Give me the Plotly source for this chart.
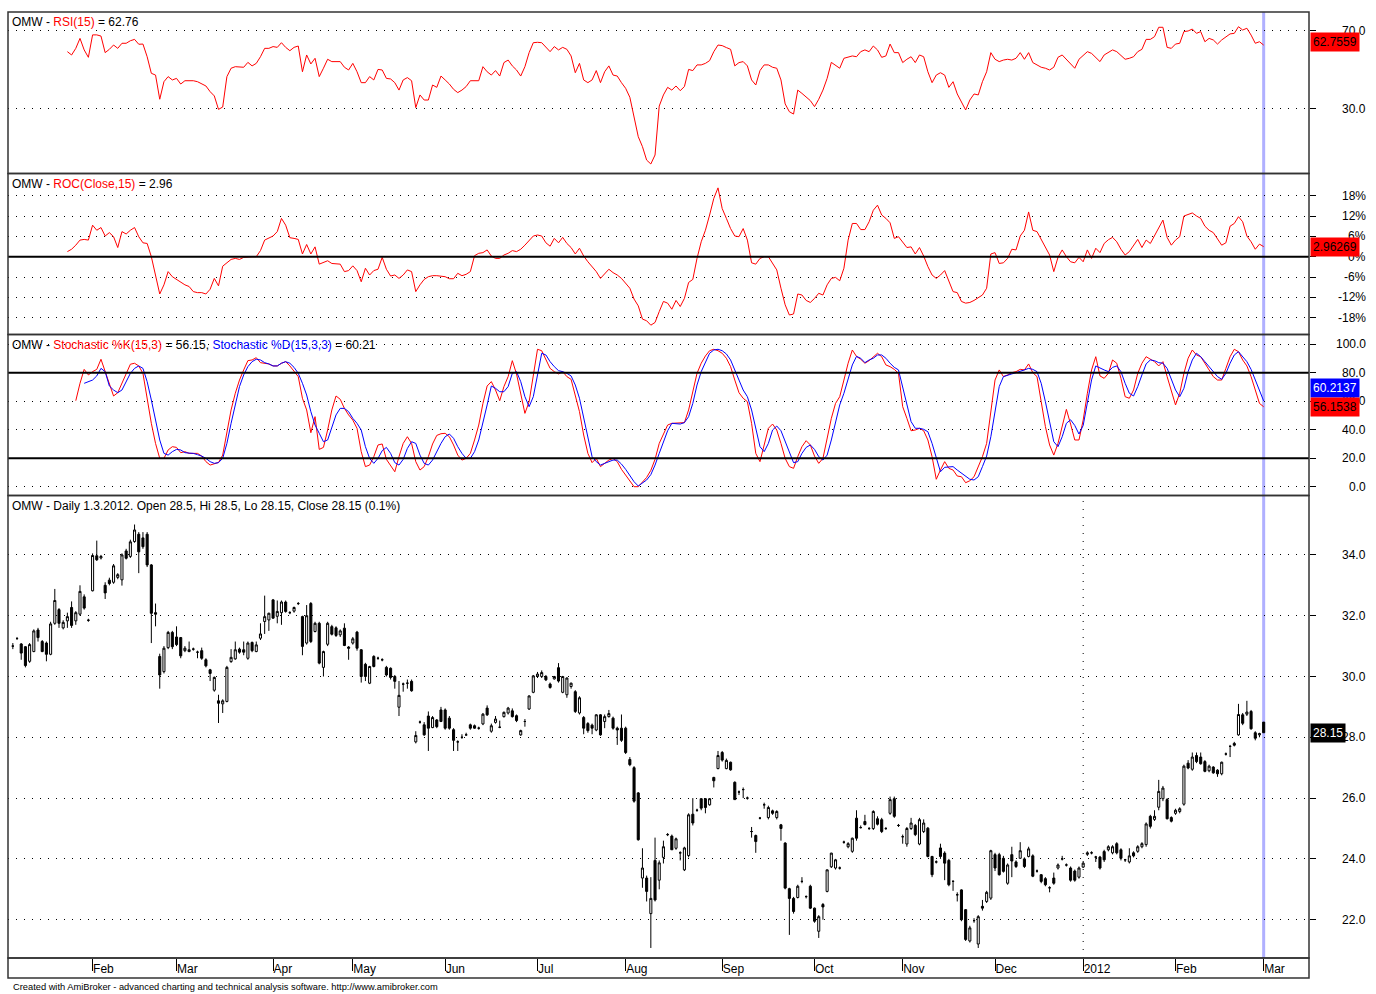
import pandas as pd
import plotly.graph_objects as go

# ---------------- dates (trading days, Vienna) ----------------
holidays = ["2011-04-22", "2011-04-25", "2011-12-26"]
all_days = pd.bdate_range("2011-01-05", "2012-03-01")
dates = all_days[~all_days.isin(pd.to_datetime(holidays))]
bar_idx = list(range(len(dates)))

month_labels = ["Feb", "Mar", "Apr", "May", "Jun", "Jul", "Aug", "Sep", "Oct",
                "Nov", "Dec", "2012", "Feb", "Mar"]
month_starts = [i for i in range(1, len(dates)) if dates[i].month != dates[i - 1].month]

# ---------------- price data (OMW daily) ----------------
opens = [
    31.0, 31.25, 31.07, 30.98, 30.5, 30.82, 31.53, 31.15, 31.1, 30.73,
    31.75, 32.2, 31.6, 31.83, 32.27, 31.83, 32.05, 32.62, 31.85, 32.82,
    33.97, 33.9, 33.0, 33.17, 33.1, 33.26, 33.18, 34.13, 33.95, 34.44,
    34.68, 34.56, 34.68, 33.67, 32.1, 30.66, 30.16, 30.95, 31.45, 31.3,
    31.28, 30.85, 30.82, 30.9, 30.8, 30.85, 30.55, 30.22, 29.55, 29.2,
    29.1, 29.18, 30.49, 30.58, 30.9, 30.88, 30.6, 31.12, 30.82, 31.26,
    31.81, 31.86, 32.52, 31.98, 32.1, 32.45, 32.1, 32.15, 32.4, 31.97,
    31.1, 32.4, 31.48, 31.75, 30.3, 31.06, 31.64, 31.6, 31.37, 31.59,
    30.97, 31.1, 31.46, 30.88, 30.4, 29.78, 30.66, 30.6, 30.55, 30.3,
    30.27, 30.0, 28.99, 29.75, 29.78, 29.84, 27.85, 28.5, 28.41, 28.7,
    28.32, 28.57, 28.9, 28.9, 28.63, 28.25, 27.85, 28.0, 28.08, 28.41,
    28.38, 28.3, 28.44, 28.96, 28.2, 28.49, 28.33, 28.68, 28.8, 28.87,
    28.71, 28.08, 28.52, 28.93, 29.48, 30.0, 30.0, 30.0, 29.75, 29.92,
    30.29, 29.48, 29.4, 29.67, 29.5, 28.8, 28.65, 28.45, 28.4, 28.24,
    28.74, 28.52, 28.68, 28.63, 28.3, 28.3, 28.3, 27.27, 27.0, 26.17,
    23.37, 23.37, 22.2, 23.95, 23.3, 24.05, 24.8, 24.75, 24.35, 24.2,
    23.64, 24.11, 25.47, 25.6, 25.98, 25.98, 25.78, 26.68, 26.97, 27.5,
    26.97, 27.18, 26.52, 26.2, 26.28, 26.0, 24.9, 24.77, 25.34, 25.78,
    25.36, 25.58, 25.36, 25.12, 24.52, 23.02, 22.7, 22.73, 23.26, 22.76,
    23.1, 22.38, 21.62, 22.5, 22.93, 23.74, 23.7, 23.7, 24.55, 24.4,
    24.25, 25.34, 25.03, 25.23, 25.0, 25.0, 25.32, 25.29, 25.0, 25.5,
    25.98, 25.1, 24.73, 24.49, 25.0, 25.1, 24.49, 24.9, 25.01, 24.08,
    23.9, 24.36, 24.19, 23.95, 23.26, 22.82, 22.98, 22.33, 21.3, 21.97,
    21.2, 22.44, 22.6, 22.71, 24.14, 24.14, 24.02, 23.2, 24.14, 23.9,
    24.02, 24.0, 24.08, 24.1, 23.6, 23.48, 23.35, 23.05, 23.37, 23.7,
    24.0, 23.8, 23.7, 23.6, 23.4, 23.73, 24.15, 24.2, 24.06, 24.06,
    24.24, 24.3, 24.2, 24.5, 24.3, 23.97, 23.9, 24.2, 24.25, 24.4,
    24.47, 25.4, 25.3, 25.7, 25.98, 25.95, 25.36, 25.5, 25.56, 25.8,
    27.15, 26.95, 27.4, 27.35, 27.2, 26.9, 27.02, 26.92, 26.8, 27.45,
    27.7, 27.8, 28.08, 28.74, 28.76, 28.85, 28.15, 28.08, 28.5,
]
highs = [
    31.1, 31.3, 31.1, 31.0, 31.1, 31.55, 31.6, 31.2, 31.15, 31.8,
    32.88, 32.25, 31.85, 32.1, 32.47, 32.15, 33.0, 32.7, 31.9, 34.05,
    34.47, 34.0, 33.1, 33.25, 33.7, 33.4, 34.05, 34.2, 34.5, 35.0,
    34.75, 34.75, 34.75, 33.7, 32.4, 30.75, 31.0, 31.5, 31.5, 31.65,
    31.3, 31.0, 31.15, 30.95, 30.85, 30.95, 30.6, 30.25, 30.0, 29.4,
    29.25, 30.35, 30.9, 31.15, 30.95, 31.15, 31.15, 31.15, 31.15, 31.75,
    32.66, 32.1, 32.55, 32.5, 32.5, 32.5, 32.15, 32.3, 32.45, 32.0,
    32.35, 32.45, 31.8, 31.8, 30.85, 31.8, 31.7, 31.65, 31.55, 31.75,
    31.0, 31.3, 31.5, 30.9, 30.45, 30.35, 30.7, 30.65, 30.6, 30.35,
    30.3, 30.05, 29.85, 29.8, 29.9, 29.9, 28.2, 28.55, 28.5, 28.85,
    28.7, 28.6, 29.0, 28.95, 28.7, 28.3, 27.9, 28.1, 28.15, 28.45,
    28.42, 28.35, 28.8, 29.05, 28.45, 28.7, 28.55, 28.85, 29.0, 28.95,
    28.75, 28.25, 28.6, 29.38, 30.05, 30.15, 30.2, 30.05, 29.8, 30.02,
    30.44, 30.02, 29.97, 29.8, 29.55, 29.35, 28.7, 28.5, 28.45, 28.76,
    28.76, 28.75, 28.9, 28.68, 28.35, 28.75, 28.35, 27.35, 27.05, 26.2,
    24.35, 23.45, 23.4, 24.7, 23.95, 24.6, 24.85, 24.8, 24.7, 24.25,
    24.4, 25.5, 26.0, 25.65, 26.0, 26.0, 26.0, 26.7, 27.55, 27.55,
    27.3, 27.2, 26.55, 26.25, 26.35, 26.05, 25.05, 24.8, 25.38, 25.85,
    25.75, 25.62, 25.6, 25.15, 24.55, 23.05, 22.75, 23.15, 23.4, 22.8,
    23.15, 22.4, 22.15, 22.55, 23.65, 24.2, 24.0, 23.75, 24.6, 24.55,
    24.7, 25.6, 25.1, 25.45, 25.05, 25.6, 25.4, 25.35, 25.05, 26.05,
    26.05, 25.15, 24.8, 25.05, 25.35, 25.15, 25.35, 25.3, 25.05, 24.1,
    23.95, 24.5, 24.25, 24.0, 23.3, 22.9, 23.0, 22.35, 21.8, 22.05,
    22.15, 22.65, 22.95, 24.3, 24.2, 24.2, 24.1, 23.85, 24.4, 23.95,
    24.55, 24.05, 24.4, 24.15, 23.65, 23.5, 23.4, 23.1, 23.55, 23.85,
    24.1, 23.85, 23.75, 23.65, 23.75, 23.9, 24.25, 24.25, 24.1, 24.1,
    24.3, 24.45, 24.45, 24.55, 24.35, 24.0, 24.35, 24.25, 24.45, 24.55,
    25.2, 25.45, 25.6, 26.6, 26.4, 26.0, 25.4, 25.65, 25.7, 27.1,
    27.25, 27.5, 27.5, 27.5, 27.25, 27.1, 27.05, 26.95, 27.2, 27.5,
    27.75, 27.85, 29.1, 28.8, 29.2, 28.9, 28.2, 28.15, 28.5,
]
lows = [
    30.9, 31.2, 30.55, 30.3, 30.45, 30.8, 31.15, 30.8, 30.5, 30.7,
    31.7, 31.6, 31.55, 31.6, 31.6, 31.7, 32.0, 32.2, 31.8, 32.8,
    33.8, 33.85, 32.55, 33.0, 33.05, 33.2, 32.99, 33.85, 33.9, 34.4,
    33.4, 34.2, 33.6, 31.1, 31.65, 29.6, 30.1, 30.9, 30.9, 31.0,
    30.6, 30.8, 30.8, 30.85, 30.6, 30.55, 30.3, 29.85, 29.5, 28.47,
    28.8, 29.15, 30.45, 30.55, 30.75, 30.7, 30.55, 30.8, 30.8, 31.2,
    31.4, 31.5, 31.9, 31.75, 31.7, 32.1, 32.05, 32.1, 32.35, 30.7,
    31.05, 31.1, 31.45, 30.4, 30.0, 31.0, 31.35, 31.3, 31.3, 31.0,
    30.55, 31.05, 30.85, 29.8, 29.85, 29.75, 30.3, 30.55, 30.5, 30.0,
    29.9, 29.6, 28.7, 29.5, 29.6, 29.5, 27.8, 28.45, 28.05, 27.55,
    28.3, 28.3, 28.5, 28.25, 28.25, 27.55, 27.55, 27.95, 28.05, 28.25,
    28.28, 28.25, 28.4, 28.7, 28.15, 28.45, 28.3, 28.65, 28.75, 28.65,
    28.5, 28.05, 28.35, 28.9, 29.45, 29.95, 29.95, 29.85, 29.6, 29.9,
    29.8, 29.45, 29.3, 29.6, 28.8, 28.75, 28.1, 28.15, 28.1, 28.2,
    28.05, 28.3, 28.65, 28.25, 27.75, 27.85, 27.45, 27.05, 25.85, 24.6,
    23.05, 22.6, 21.07, 22.6, 23.0, 23.85, 24.75, 24.3, 24.3, 23.95,
    23.6, 24.05, 25.1, 25.55, 25.6, 25.5, 25.75, 26.35, 26.95, 27.2,
    26.95, 26.9, 25.95, 26.1, 26.0, 25.95, 24.7, 24.2, 25.3, 25.65,
    25.3, 25.45, 25.3, 24.6, 23.0, 21.5, 22.2, 22.7, 23.2, 22.7,
    22.35, 21.9, 21.4, 22.0, 22.9, 23.7, 23.65, 23.65, 24.5, 24.35,
    24.2, 24.6, 25.0, 25.1, 24.95, 24.95, 25.1, 24.85, 24.95, 25.45,
    25.35, 25.05, 24.5, 24.4, 24.95, 24.75, 24.45, 24.85, 24.05, 23.4,
    23.85, 24.0, 23.3, 23.1, 22.95, 22.6, 21.95, 21.3, 21.25, 21.9,
    21.07, 22.3, 22.55, 22.65, 23.6, 23.45, 23.55, 23.15, 23.4, 23.7,
    24.0, 23.7, 24.05, 23.4, 23.55, 23.2, 23.1, 22.9, 23.15, 23.65,
    23.95, 23.75, 23.25, 23.25, 23.35, 23.7, 24.1, 24.15, 23.9, 23.65,
    23.9, 24.25, 24.15, 24.15, 23.95, 23.9, 23.85, 24.05, 24.2, 24.35,
    24.4, 25.0, 25.25, 25.6, 25.9, 25.3, 25.2, 25.45, 25.5, 25.75,
    26.95, 26.9, 27.15, 27.1, 26.85, 26.85, 26.8, 26.7, 26.75, 27.4,
    27.35, 27.7, 28.05, 28.4, 28.7, 28.25, 27.9, 28.0, 28.15,
]
closes = [
    31.0, 31.25, 30.77, 30.36, 31.05, 31.5, 31.28, 30.82, 30.73, 31.73,
    32.5, 31.75, 31.78, 31.97, 31.68, 32.1, 32.8, 32.25, 31.85, 33.98,
    33.84, 33.95, 32.75, 33.06, 33.64, 33.35, 34.0, 33.89, 34.43, 34.82,
    34.1, 34.27, 33.67, 32.08, 32.05, 30.05, 30.93, 31.45, 30.98, 31.05,
    30.68, 30.93, 30.88, 30.9, 30.8, 30.6, 30.35, 30.1, 29.97, 29.12,
    29.2, 30.3, 30.63, 30.88, 30.8, 30.8, 31.1, 30.85, 31.04, 31.4,
    31.97, 32.08, 31.92, 32.14, 32.45, 32.14, 32.1, 32.27, 32.4, 30.99,
    32.0, 31.15, 31.75, 30.44, 30.82, 31.75, 31.39, 31.35, 31.5, 31.02,
    30.93, 31.24, 30.93, 30.0, 30.0, 30.33, 30.33, 30.6, 30.55, 30.05,
    29.97, 29.84, 29.38, 29.75, 29.78, 29.53, 28.06, 28.5, 28.08, 28.3,
    28.65, 28.35, 28.52, 28.3, 28.3, 27.9, 27.85, 28.0, 28.08, 28.3,
    28.3, 28.3, 28.76, 28.74, 28.38, 28.6, 28.33, 28.82, 28.96, 28.68,
    28.55, 28.22, 28.52, 29.36, 30.02, 30.08, 30.13, 29.89, 29.64, 30.0,
    29.85, 30.0, 29.95, 29.78, 28.85, 29.3, 28.3, 28.22, 28.3, 28.74,
    28.08, 28.68, 28.78, 28.3, 28.24, 27.9, 27.5, 27.1, 25.9, 24.63,
    23.7, 22.93, 22.7, 22.65, 23.87, 24.4, 24.8, 24.3, 24.66, 24.2,
    24.36, 25.45, 25.18, 25.6, 25.67, 25.69, 25.98, 26.57, 27.4, 27.25,
    27.24, 26.93, 25.95, 26.2, 26.28, 26.0, 24.9, 24.57, 25.34, 25.78,
    25.69, 25.5, 25.56, 25.0, 23.04, 22.7, 22.27, 23.1, 23.26, 22.76,
    22.38, 21.95, 22.1, 22.42, 23.64, 24.19, 23.97, 23.7, 24.55, 24.5,
    24.68, 24.68, 25.03, 25.13, 25.0, 25.56, 25.14, 24.9, 25.0, 25.95,
    25.4, 25.1, 24.73, 25.0, 25.18, 24.8, 25.29, 25.18, 24.08, 23.48,
    23.9, 24.08, 23.86, 23.15, 23.26, 22.82, 22.0, 21.35, 21.73, 21.97,
    22.1, 22.38, 22.9, 24.27, 23.7, 23.48, 23.59, 23.8, 23.93, 23.75,
    24.27, 23.75, 24.33, 23.43, 23.6, 23.26, 23.15, 23.05, 23.2, 23.8,
    24.0, 23.8, 23.3, 23.3, 23.7, 23.86, 24.2, 24.2, 24.06, 23.7,
    23.97, 24.4, 24.4, 24.2, 24.02, 23.97, 24.1, 24.1, 24.4, 24.5,
    25.15, 25.07, 25.4, 26.22, 26.33, 25.32, 25.24, 25.6, 25.65, 27.05,
    26.99, 27.35, 27.2, 27.13, 26.88, 27.05, 26.83, 26.8, 27.18, 27.45,
    27.7, 27.74, 28.75, 28.46, 28.83, 28.28, 27.97, 28.12, 28.15,
]

# ---------------- indicators ----------------
rsi_first = 13
rsi = [
    59.4, 57.7, 61.1, 66.2, 60.3, 56.5, 68.0, 68.0, 67.4, 58.9,
    60.6, 62.8, 61.1, 63.7, 63.7, 65.0, 65.7, 63.2, 63.3, 56.8,
    48.3, 47.4, 35.0, 44.0, 46.6, 44.9, 45.7, 42.8, 44.5, 44.5,
    44.5, 44.0, 43.0, 41.8, 38.9, 36.7, 29.8, 31.0, 46.6, 50.9,
    51.7, 51.5, 51.4, 53.9, 52.1, 53.4, 56.8, 61.1, 61.1, 62.0,
    61.6, 64.0, 61.6, 59.9, 61.6, 62.3, 49.1, 57.7, 53.1, 56.0,
    46.6, 50.9, 55.5, 54.3, 54.3, 54.3, 51.4, 50.0, 53.4, 49.1,
    43.5, 43.5, 46.6, 44.9, 50.3, 50.0, 45.7, 45.4, 43.5, 39.7,
    44.9, 46.1, 44.5, 30.7, 37.2, 34.6, 34.6, 42.3, 41.1, 46.9,
    44.9, 42.8, 40.1, 38.4, 39.7, 41.5, 44.5, 44.5, 44.5, 51.7,
    49.1, 47.4, 49.7, 46.9, 53.8, 55.1, 52.1, 50.0, 46.9, 51.7,
    58.9, 64.0, 64.2, 64.0, 61.6, 59.4, 62.0, 60.3, 61.6, 60.6,
    57.2, 48.6, 53.4, 44.9, 43.5, 44.9, 49.7, 43.5, 49.1, 52.1,
    47.4, 46.9, 43.5, 40.6, 36.0, 26.1, 15.8, 10.7, 3.8, 1.8,
    6.4, 31.5, 37.2, 41.1, 39.7, 41.8, 39.4, 41.5, 50.3, 49.7,
    52.6, 52.6, 53.4, 54.8, 59.4, 62.8, 62.5, 61.5, 60.6, 52.1,
    53.8, 54.3, 52.1, 44.9, 42.3, 49.7, 52.6, 52.6, 51.4, 50.9,
    44.9, 32.6, 28.6, 27.4, 39.7, 38.0, 36.0, 34.3, 31.2, 35.0,
    39.7, 45.7, 53.9, 52.6, 50.9, 56.0, 56.5, 57.2, 56.8, 59.4,
    60.3, 59.4, 62.3, 60.3, 56.5, 57.2, 63.3, 58.9, 58.9, 53.8,
    55.5, 56.8, 53.8, 57.7, 56.8, 49.1, 43.5, 47.4, 48.6, 47.4,
    41.1, 44.0, 37.7, 33.8, 29.5, 34.6, 37.7, 37.2, 44.0, 49.1,
    58.9, 55.5, 54.3, 55.1, 55.5, 55.1, 56.0, 58.9, 55.5, 58.9,
    53.8, 52.6, 51.4, 50.9, 50.0, 51.4, 56.5, 57.7, 55.5, 53.1,
    50.9, 55.5, 57.7, 59.4, 58.5, 56.5, 54.3, 57.7, 59.0, 60.3,
    59.4, 57.2, 55.5, 56.0, 56.8, 59.4, 60.6, 65.7, 65.7, 67.1,
    71.9, 71.9, 61.6, 61.1, 63.3, 63.7, 69.7, 70.0, 71.0, 68.8,
    69.7, 64.5, 66.2, 65.4, 63.3, 65.4, 67.1, 68.5, 68.8, 72.2,
    70.5, 71.4, 67.9, 63.7, 64.5, 62.7559,
]
roc_first = 13
roc = [
    1.5, 2.2, 3.4, 4.9, 5.1, 4.9, 9.3, 7.8, 8.6, 6.1,
    7.1, 5.9, 2.7, 7.4, 6.7, 7.8, 8.6, 5.9, 4.1, 3.9,
    0.0, -5.9, -11.0, -8.3, -4.4, -5.9, -6.7, -7.6, -8.3, -8.8,
    -10.3, -10.6, -10.6, -11.0, -9.6, -6.4, -8.6, -2.8, -1.7, -0.8,
    -0.5, -0.8, -0.2, 0.0, 0.0, 0.0, 1.8, 4.9, 5.6, 6.1,
    7.4, 11.3, 9.3, 5.6, 5.4, 5.1, 0.8, 3.6, 0.8, 2.9,
    -2.2, -1.7, -1.2, -2.0, -2.0, -2.2, -4.4, -4.1, -2.7, -4.1,
    -7.4, -3.4, -5.4, -4.1, -3.7, -0.2, -3.7, -5.7, -5.4, -6.4,
    -5.4, -3.9, -4.4, -10.3, -8.3, -6.7, -5.9, -5.6, -5.6, -5.8,
    -5.9, -6.5, -6.5, -4.9, -5.6, -5.2, -4.4, 0.3, 1.0, 1.2,
    2.0, 0.2, -0.5, -0.5, 0.5, 1.0, 1.8, 1.5, 2.2, 3.4,
    4.9, 6.1, 6.4, 6.1, 4.1, 3.1, 5.4, 4.1, 5.7, 3.9,
    2.7, 0.8, 2.5, 0.2, -1.5, -3.1, -4.4, -6.4, -4.9, -3.7,
    -4.7, -5.4, -6.4, -7.8, -9.3, -12.5, -14.5, -18.4, -18.9, -20.2,
    -19.4, -16.2, -13.2, -13.7, -15.5, -12.9, -14.7, -12.3, -7.6, -6.7,
    -0.5, 4.4, 7.8, 12.3, 17.2, 20.3, 14.2, 11.3, 8.3, 6.1,
    5.9, 8.3, 4.9, -1.8, -2.2, -0.5, 0.0, 0.0, -2.0, -3.9,
    -9.3, -14.2, -17.2, -16.9, -11.0, -11.3, -12.9, -13.5, -12.3, -10.8,
    -11.3, -8.3, -6.4, -6.1, -7.1, -3.4, 4.9, 9.8, 9.8, 8.0,
    8.0, 10.3, 13.7, 15.2, 12.3, 11.3, 10.0, 5.4, 5.9, 4.4,
    2.7, 2.9, 0.8, 2.7, 0.2, -2.9, -5.4, -6.4, -5.4, -4.1,
    -7.4, -10.3, -10.6, -13.2, -13.7, -13.5, -12.9, -12.0, -11.3, -9.3,
    0.8, 1.2, -2.0, -1.8, -0.5, 2.2, 2.0, 6.1, 7.8, 13.2,
    7.8, 7.4, 5.1, 2.7, 0.5, -4.4, -0.2, 2.0, 0.0, -1.5,
    -1.8, -0.2, -1.5, 2.0, -0.5, 2.5, 1.2, 3.9, 5.0, 5.7,
    4.4, 2.2, 0.5, 1.5, 3.4, 5.1, 2.7, 4.9, 3.9, 6.1,
    8.3, 10.8, 5.7, 3.4, 4.9, 5.9, 12.0, 12.5, 12.9, 12.0,
    11.3, 9.0, 7.8, 7.1, 5.4, 3.4, 4.1, 9.0, 9.8, 11.8,
    10.3, 6.1, 4.4, 2.2, 3.7, 2.96269,
]
stoch_k_first = 15
stoch_k = [
    60.4, 72.6, 82.4, 78.5, 80.8, 82.4, 89.5, 80.8, 72.6, 63.7,
    66.0, 72.6, 79.6, 86.0, 86.7, 84.8, 79.6, 60.9, 44.5, 30.4,
    19.9, 19.9, 25.8, 28.1, 27.6, 23.9, 24.6, 23.4, 23.4, 23.4,
    21.5, 17.6, 15.2, 15.9, 17.0, 22.2, 38.6, 53.9, 65.6, 74.9,
    82.0, 88.5, 89.0, 90.6, 87.1, 86.7, 86.2, 84.8, 84.8, 86.7,
    87.8, 84.8, 80.8, 77.3, 62.1, 53.9, 37.9, 49.2, 26.2, 27.6,
    39.8, 53.9, 63.7, 61.4, 55.0, 50.4, 46.8, 41.0, 24.6, 14.1,
    15.2, 21.1, 29.3, 30.0, 19.2, 15.2, 10.5, 21.1, 30.4, 35.1,
    30.4, 17.6, 11.7, 14.1, 21.1, 30.0, 36.0, 37.2, 37.5, 35.1,
    29.3, 22.2, 18.7, 19.9, 23.4, 32.8, 43.3, 58.5, 70.7, 73.8,
    67.9, 60.4, 70.3, 77.3, 88.5, 79.2, 64.4, 51.5, 59.7, 77.3,
    96.5, 95.5, 89.0, 83.1, 80.8, 79.2, 80.8, 77.3, 75.4, 63.2,
    52.7, 36.3, 23.4, 16.9, 19.9, 14.1, 16.4, 18.7, 19.9, 17.6,
    12.2, 8.2, 3.5, 0.0, 0.0, 3.5, 6.5, 11.5, 19.2, 30.4,
    37.0, 43.3, 44.5, 44.5, 44.5, 45.0, 53.9, 67.9, 79.6, 86.7,
    91.8, 95.5, 96.5, 95.5, 93.7, 90.2, 84.3, 74.9, 66.0, 62.1,
    59.7, 44.5, 23.4, 17.6, 30.4, 41.0, 44.0, 39.8, 30.4, 19.9,
    14.1, 12.9, 21.1, 28.1, 32.3, 29.3, 21.5, 16.4, 19.9, 35.1,
    48.0, 58.5, 63.2, 74.9, 86.7, 96.0, 91.5, 89.5, 86.7, 88.5,
    91.3, 93.7, 91.3, 85.5, 84.3, 82.4, 79.6, 56.2, 48.0, 39.3,
    39.8, 41.0, 39.3, 32.8, 21.1, 5.2, 11.7, 17.6, 12.9, 11.7,
    7.5, 7.0, 2.8, 4.2, 7.0, 14.1, 21.1, 30.4, 53.9, 74.9,
    82.0, 77.3, 78.5, 80.1, 80.8, 82.4, 82.0, 86.2, 80.1, 77.3,
    59.7, 42.2, 29.3, 22.2, 30.4, 43.3, 54.3, 44.0, 32.8, 32.8,
    46.8, 65.6, 82.0, 91.3, 77.8, 76.1, 79.6, 89.0, 86.7, 76.1,
    63.2, 62.1, 67.9, 79.6, 86.7, 91.3, 89.5, 87.8, 84.8, 87.8,
    77.3, 67.9, 57.4, 65.6, 79.6, 90.2, 96.0, 92.5, 91.3, 86.7,
    82.0, 77.3, 74.9, 74.9, 83.1, 91.3, 96.5, 94.8, 89.0, 84.8,
    77.3, 67.9, 58.5, 56.1538,
]
stoch_d_first = 17
stoch_d = [
    72.6, 73.8, 74.9, 77.8, 83.1, 80.8, 70.7, 67.9, 66.0, 67.9,
    73.8, 79.6, 83.1, 84.8, 83.1, 73.8, 60.9, 45.7, 32.8, 23.4,
    22.2, 24.6, 26.2, 25.8, 23.9, 23.6, 23.4, 22.5, 21.5, 19.9,
    17.6, 16.4, 16.9, 19.9, 30.4, 44.5, 58.5, 70.3, 78.5, 84.3,
    87.8, 89.5, 89.0, 87.1, 86.2, 84.8, 84.8, 86.7, 87.8, 86.7,
    83.8, 79.6, 72.6, 64.4, 52.7, 43.3, 37.5, 31.6, 32.8, 41.0,
    50.4, 55.0, 55.0, 52.7, 48.0, 44.5, 39.8, 28.1, 19.9, 16.4,
    19.9, 25.3, 27.6, 23.4, 16.9, 15.2, 19.2, 26.9, 31.6, 30.4,
    22.2, 16.4, 15.2, 18.7, 24.6, 30.4, 35.1, 37.0, 34.0, 28.1,
    23.4, 19.9, 19.9, 24.6, 32.8, 44.5, 57.4, 70.7, 69.1, 66.7,
    66.7, 70.3, 79.6, 80.8, 73.8, 63.2, 56.2, 63.2, 77.3, 93.7,
    92.5, 87.8, 84.3, 81.5, 80.8, 79.6, 77.8, 71.4, 62.1, 49.2,
    35.1, 21.1, 17.6, 15.2, 16.4, 17.6, 18.7, 18.7, 15.9, 12.2,
    8.2, 3.5, 0.5, 2.3, 4.7, 8.5, 15.2, 23.4, 31.6, 39.3,
    44.5, 44.5, 44.0, 45.0, 49.2, 58.5, 71.4, 80.8, 87.8, 93.7,
    96.0, 96.5, 95.5, 93.2, 89.0, 82.4, 74.9, 67.9, 63.2, 53.9,
    41.0, 28.1, 24.6, 30.4, 39.8, 42.6, 39.3, 31.6, 23.4, 16.9,
    17.6, 23.4, 27.6, 29.3, 26.2, 21.1, 18.7, 22.2, 32.8, 45.0,
    57.4, 65.6, 76.1, 85.5, 91.5, 90.2, 87.1, 89.0, 90.2, 92.5,
    92.5, 90.2, 86.7, 83.8, 82.0, 70.3, 57.4, 45.7, 41.0, 41.0,
    40.3, 38.6, 30.4, 19.9, 10.5, 13.6, 14.1, 14.1, 11.7, 9.4,
    7.5, 5.2, 4.7, 7.0, 14.1, 21.5, 35.1, 53.9, 70.3, 77.3,
    78.5, 79.2, 80.1, 80.8, 82.0, 83.1, 82.4, 80.8, 72.6, 59.7,
    44.5, 31.6, 28.1, 35.1, 44.5, 47.0, 43.0, 37.0, 43.0, 58.0,
    75.0, 84.8, 83.1, 82.0, 80.8, 83.8, 84.8, 80.8, 72.6, 65.6,
    63.7, 70.3, 78.5, 86.2, 89.0, 88.5, 87.1, 86.7, 83.1, 74.9,
    67.9, 63.2, 69.1, 80.8, 89.0, 93.7, 91.3, 87.8, 84.3, 80.8,
    77.3, 75.4, 79.6, 86.7, 92.5, 94.8, 91.3, 87.8, 82.4, 74.9,
    66.7, 60.2137,
]

# ---------------- axis ticks ----------------
price_ticks = [22, 24, 26, 28, 30, 32, 34]
price_tick_text = ["22.0", "24.0", "26.0", "28.0", "30.0", "32.0", "34.0"]
stoch_ticks = [0, 20, 40, 60, 80, 100]
stoch_tick_text = ["0.0", "20.0", "40.0", "60.0", "80.0", "100.0"]
roc_ticks = [-18, -12, -6, 0, 6, 12, 18]
roc_tick_text = ["-18%", "-12%", "-6%", "0%", "6%", "12%", "18%"]
rsi_ticks = [30, 70]
rsi_tick_text = ["30.0", "70.0"]
stoch_levels = [80, 20]
roc_level = 0

RED = "#ff0000"
BLUE = "#0000ff"
FONT = "Arial, Liberation Sans, sans-serif"

# panel domains (fractions of plot height)
dom_price = [0.0, 0.4889]
dom_stoch = [0.4889, 0.65909]
dom_roc = [0.65909, 0.82928]
dom_rsi = [0.82928, 1.0]

fig = go.Figure()

fig.add_trace(go.Candlestick(
    x=bar_idx, open=opens, high=highs, low=lows, close=closes,
    increasing=dict(line=dict(color="black", width=1), fillcolor="white"),
    decreasing=dict(line=dict(color="black", width=1), fillcolor="black"),
    whiskerwidth=0, xaxis="x", yaxis="y", showlegend=False, hoverinfo="skip"))

fig.add_trace(go.Scatter(
    x=list(range(stoch_k_first, stoch_k_first + len(stoch_k))), y=stoch_k,
    mode="lines", line=dict(color=RED, width=1), xaxis="x", yaxis="y2",
    showlegend=False, hoverinfo="skip"))
fig.add_trace(go.Scatter(
    x=list(range(stoch_d_first, stoch_d_first + len(stoch_d))), y=stoch_d,
    mode="lines", line=dict(color=BLUE, width=1), xaxis="x", yaxis="y2",
    showlegend=False, hoverinfo="skip"))
fig.add_trace(go.Scatter(
    x=list(range(roc_first, roc_first + len(roc))), y=roc,
    mode="lines", line=dict(color=RED, width=1), xaxis="x", yaxis="y3",
    showlegend=False, hoverinfo="skip"))
fig.add_trace(go.Scatter(
    x=list(range(rsi_first, rsi_first + len(rsi))), y=rsi,
    mode="lines", line=dict(color=RED, width=1), xaxis="x", yaxis="y4",
    showlegend=False, hoverinfo="skip"))

grid = dict(showgrid=True, gridcolor="#000000", gridwidth=1, griddash="1px,7px",
            zeroline=False, showline=False, side="right", anchor="x",
            ticks="outside", ticklen=6, tickcolor="#000000", showticklabels=False,
            fixedrange=True)

fig.update_layout(
    width=1376, height=994, autosize=False,
    margin=dict(l=8, r=67, t=12, b=36),
    paper_bgcolor="white", plot_bgcolor="white",
    font=dict(family=FONT, size=12, color="black"),
    showlegend=False, hovermode=False,
    xaxis=dict(domain=[0, 1], anchor="y", range=[-1.15, 308.8],
               tickmode="array", tickvals=month_starts, ticktext=month_labels,
               ticks="outside", ticklen=12, tickcolor="#000000",
               ticklabelposition="outside right",
               tickfont=dict(family=FONT, size=12, color="black"),
               showgrid=False, zeroline=False, showline=False,
               rangeslider=dict(visible=False), fixedrange=True),
    yaxis=dict(domain=dom_price, range=[20.74, 35.954], tickvals=price_ticks, **grid),
    yaxis2=dict(domain=dom_stoch, range=[-6.18, 106.88], tickvals=stoch_ticks, **grid),
    yaxis3=dict(domain=dom_roc, range=[-22.95, 24.54], tickvals=roc_ticks, **grid),
    yaxis4=dict(domain=dom_rsi, range=[-3.08, 79.74], tickvals=rsi_ticks, **grid),
)

shapes = []
# selected bar marker (light blue vertical line through all panes)
shapes.append(dict(type="line", xref="x", x0=bar_idx[-1], x1=bar_idx[-1], yref="paper",
                   y0=0, y1=1, line=dict(color="#b0b0ff", width=3), layer="below"))
# reference level lines
shapes.append(dict(type="line", xref="x domain", x0=0, x1=1, yref="y3",
                   y0=roc_level, y1=roc_level, line=dict(color="black", width=2), layer="above"))
for lv in stoch_levels:
    shapes.append(dict(type="line", xref="x domain", x0=0, x1=1, yref="y2",
                       y0=lv, y1=lv, line=dict(color="black", width=2), layer="above"))
# year separator (dotted) in price pane
year_idx = month_starts[month_labels.index("2012")]
shapes.append(dict(type="line", xref="x", x0=year_idx, x1=year_idx, yref="y domain",
                   y0=0, y1=1, line=dict(color="black", width=1, dash="1px,7px"), layer="below"))
# pane frames
frame_bounds = [[-20 / 946, 0.0], dom_price, dom_stoch, dom_roc, dom_rsi]
for y0, y1 in frame_bounds:
    shapes.append(dict(type="rect", xref="paper", yref="paper", x0=0, x1=1, y0=y0, y1=y1,
                       line=dict(color="#333333", width=1.5), fillcolor="rgba(0,0,0,0)",
                       layer="above"))
fig.update_layout(shapes=shapes)

ann = []
# right-hand axis labels (right aligned)
for yref, vals, texts in [("y", price_ticks, price_tick_text),
                          ("y2", stoch_ticks, stoch_tick_text),
                          ("y3", roc_ticks, roc_tick_text),
                          ("y4", rsi_ticks, rsi_tick_text)]:
    for v, t in zip(vals, texts):
        ann.append(dict(xref="paper", x=1, xanchor="right", xshift=59,
                        yref=yref, y=v, yanchor="middle", text=t, showarrow=False,
                        font=dict(family=FONT, size=12, color="black")))


# last-value boxes
def box(yref, val, bg, fg, yshift=0):
    return dict(xref="paper", x=1, xanchor="left", xshift=1, yref=yref, y=val,
                yanchor="middle", yshift=yshift, text=f"{val:.6g}", showarrow=False,
                bgcolor=bg, borderpad=2, font=dict(family=FONT, size=12, color=fg))


ann.append(box("y4", rsi[-1], RED, "black", yshift=3))
ann.append(box("y3", roc[-1], RED, "black"))
ann.append(box("y2", stoch_d[-1], BLUE, "white", yshift=13))
ann.append(box("y2", stoch_k[-1], RED, "black"))
ann.append(box("y", closes[-1], "black", "white"))

# pane titles
last_date = dates[-1]
chg = (closes[-1] / closes[-2] - 1) * 100
titles = [
    ("y4 domain", f'OMW - <span style="color:{RED}">RSI(15)</span> = {rsi[-1]:.2f}'),
    ("y3 domain", f'OMW - <span style="color:{RED}">ROC(Close,15)</span> = {roc[-1]:.2f}'),
    ("y2 domain", f'OMW - <span style="color:{RED}">Stochastic %K(15,3)</span> = {stoch_k[-1]:.2f}, '
                  f'<span style="color:{BLUE}">Stochastic %D(15,3,3)</span> = {stoch_d[-1]:.2f}'),
    ("y domain", f"OMW - Daily {last_date.day}.{last_date.month}.{last_date.year}. "
                 f"Open {opens[-1]:g}, Hi {highs[-1]:g}, Lo {lows[-1]:g}, "
                 f"Close {closes[-1]:g} ({chg:.1f}%)"),
]
for yref, t in titles:
    ann.append(dict(xref="paper", x=0, xanchor="left", xshift=2, yref=yref, y=1,
                    yanchor="top", yshift=-1, text=t, showarrow=False,
                    font=dict(family=FONT, size=12, color="black")))

ann.append(dict(xref="paper", x=0, xanchor="left", xshift=3, yref="paper", y=0,
                yanchor="middle", yshift=-29,
                text="Created with AmiBroker - advanced charting and technical analysis software. "
                     "http://www.amibroker.com",
                showarrow=False, font=dict(family=FONT, size=9.3, color="black")))

fig.update_layout(annotations=ann)

fig.write_html("out.html", config={"displayModeBar": False},
               post_script="document.body.style.margin='0px';"
                           "document.documentElement.style.overflow='hidden';")
